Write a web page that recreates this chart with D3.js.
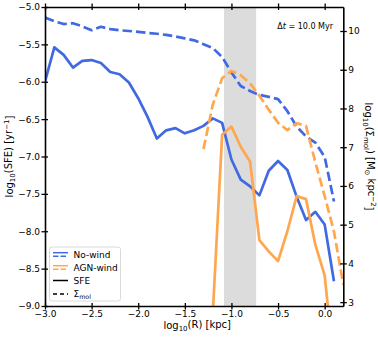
<!DOCTYPE html>
<html>
<head>
<meta charset="utf-8">
<script src="https://cdn.jsdelivr.net/npm/d3@7"></script>
<style>
  body { margin: 0; background: #fff; }
  text { font-family: "DejaVu Sans", sans-serif; fill: #000; }
</style>
</head>
<body>
<div id="chart"></div>
<script>
// radius bins (log10 kpc) for each run
const logRNoWind = [-3.0, -2.9, -2.8, -2.7, -2.6, -2.5, -2.4, -2.3, -2.2, -2.1, -2.0, -1.9, -1.8, -1.7, -1.6, -1.5,
                    -1.4, -1.3, -1.2, -1.1, -1.0, -0.9, -0.8, -0.7, -0.6, -0.5, -0.4, -0.3, -0.2, -0.1, 0.0, 0.1]
const sfeNoWind = [-6.00, -5.54, -5.64, -5.81, -5.72, -5.71, -5.75, -5.87, -5.90, -6.01, -6.22, -6.47, -6.76, -6.65, -6.62, -6.69,
                   -6.65, -6.59, -6.49, -6.55, -7.04, -7.31, -7.40, -7.52, -7.19, -7.06, -7.18, -7.54, -7.85, -7.74, -7.91, -8.67]
const sigmaNoWind = [10.35, 10.25, 10.18, 10.20, 10.12, 10.02, 10.11, 10.05, 10.02, 10.00, 9.98, 9.95, 9.93, 9.90, 9.86, 9.81,
                     9.76, 9.66, 9.56, 9.33, 8.93, 8.58, 8.45, 8.35, 8.30, 8.24, 7.93, 7.53, 7.28, 7.12, 6.75, 5.60]

const logRAgnSfe = [-1.2, -1.1, -1.0, -0.9, -0.8, -0.7, -0.6, -0.5, -0.4, -0.3, -0.2, -0.1, 0.0, 0.1]
const sfeAgn = [-9.1, -6.71, -6.60, -6.87, -7.07, -8.12, -8.27, -8.40, -8.0, -7.53, -7.57, -8.18, -8.59, -9.8]

const logRAgnSigma = [-1.3, -1.2, -1.1, -1.0, -0.9, -0.8, -0.7, -0.6, -0.5, -0.4, -0.3, -0.2, -0.1, 0.0, 0.1, 0.2]
const sigmaAgn = [6.95, 8.1, 8.78, 8.97, 8.86, 8.65, 8.33, 7.97, 7.63, 7.44, 7.62, 7.55, 6.61, 5.74, 4.82, 3.45]

const shadedBand = [-1.08, -0.735]

const xTicks = [-3.0, -2.5, -2.0, -1.5, -1.0, -0.5, 0.0]
const leftTicks = [-9.0, -8.5, -8.0, -7.5, -7.0, -6.5, -6.0, -5.5, -5.0]
const rightTicks = [3, 4, 5, 6, 7, 8, 9, 10]

const blue = '#4169e1'
const orange = '#ffa64f'

const W = 378, H = 337
const mLeft = 45, mRight = 343.3, mTop = 7, mBottom = 306

const svg = d3.select('#chart').append('svg')
    .attr('width', W).attr('height', H)

const x = d3.scaleLinear().domain([-3, 0.2]).range([mLeft, mRight])
const yL = d3.scaleLinear().domain([-9, -5]).range([mBottom, mTop])
const yR = d3.scaleLinear().domain([2.9, 10.62]).range([mBottom, mTop])

svg.append('clipPath').attr('id', 'plotclip')
    .append('rect').attr('x', mLeft).attr('y', mTop)
    .attr('width', mRight - mLeft).attr('height', mBottom - mTop)

// grey band
svg.append('rect')
    .attr('x', x(shadedBand[0])).attr('y', mTop)
    .attr('width', x(shadedBand[1]) - x(shadedBand[0]))
    .attr('height', mBottom - mTop)
    .attr('fill', '#dcdcdc')

const plot = svg.append('g').attr('clip-path', 'url(#plotclip)')

function drawLine(xs, ys, yScale, color, dashed) {
    const line = d3.line()
        .x((d, i) => x(xs[i]))
        .y(d => yScale(d))
    plot.append('path')
        .datum(ys)
        .attr('d', line)
        .attr('fill', 'none')
        .attr('stroke', color)
        .attr('stroke-width', 2.7)
        .attr('stroke-linejoin', 'round')
        .attr('stroke-dasharray', dashed ? '9.5,4' : null)
}

drawLine(logRNoWind, sfeNoWind, yL, blue, false)
drawLine(logRAgnSfe, sfeAgn, yL, orange, false)
drawLine(logRNoWind, sigmaNoWind, yR, blue, true)
drawLine(logRAgnSigma, sigmaAgn, yR, orange, true)

// axes, ticks stick in and out of the spine
const fmt = d3.format('.1f')
const gx = svg.append('g').attr('transform', `translate(0,${mBottom})`)
    .call(d3.axisBottom(x).tickValues(xTicks).tickFormat(fmt).tickSizeInner(3.5).tickSizeOuter(0))
const gxTop = svg.append('g').attr('transform', `translate(0,${mTop})`)
    .call(d3.axisTop(x).tickValues(xTicks).tickFormat('').tickSizeInner(3.5).tickSizeOuter(0))
const gl = svg.append('g').attr('transform', `translate(${mLeft},0)`)
    .call(d3.axisLeft(yL).tickValues(leftTicks).tickFormat(fmt).tickSizeInner(3.5).tickSizeOuter(0))
const gr = svg.append('g').attr('transform', `translate(${mRight},0)`)
    .call(d3.axisRight(yR).tickValues(rightTicks).tickFormat(d3.format('d')).tickSizeInner(3.5).tickSizeOuter(0))

;[gx, gxTop, gl, gr].forEach(g => {
    g.select('.domain').attr('stroke', '#000').attr('stroke-width', 1.6)
    g.selectAll('.tick line').attr('stroke', '#000').attr('stroke-width', 1.3)
    g.selectAll('.tick text').attr('font-size', 9).attr('font-family', 'DejaVu Sans')
})
gx.selectAll('.tick line').attr('y1', -3)
gxTop.selectAll('.tick line').attr('y1', 3)
gl.selectAll('.tick line').attr('x1', 3)
gr.selectAll('.tick line').attr('x1', -3)
gx.selectAll('.tick text').attr('y', 5).attr('dy', '0.7em')
gl.selectAll('.tick text').attr('x', -5)
gr.selectAll('.tick text').attr('x', 5)

// axis labels
function sub(t, main, s) {
    t.append('tspan').text(main)
    t.append('tspan').text(s).attr('font-size', '0.7em').attr('dy', '0.3em')
}

const xl = svg.append('text').attr('x', (mLeft + mRight) / 2 + 3).attr('y', 329)
    .attr('text-anchor', 'middle').attr('font-size', 10)
sub(xl, 'log', '10')
xl.append('tspan').text('(R) [kpc]').attr('dy', '-0.3em')

const yll = svg.append('text')
    .attr('transform', `translate(13,${(mTop + mBottom) / 2}) rotate(-90)`)
    .attr('text-anchor', 'middle').attr('font-size', 10)
sub(yll, 'log', '10')
yll.append('tspan').text('(SFE) [yr').attr('dy', '-0.3em')
yll.append('tspan').text('−1').attr('font-size', '0.7em').attr('dy', '-0.45em')
yll.append('tspan').text(']').attr('dy', '0.45em')

const yrl = svg.append('text')
    .attr('transform', `translate(365,${(mTop + mBottom) / 2}) rotate(90)`)
    .attr('text-anchor', 'middle').attr('font-size', 10)
sub(yrl, 'log', '10')
yrl.append('tspan').text('(Σ').attr('dy', '-0.3em')
yrl.append('tspan').text('mol').attr('font-size', '0.7em').attr('dy', '0.3em')
yrl.append('tspan').text(') [M').attr('dy', '-0.3em')
yrl.append('tspan').text('⊙').attr('font-size', '0.7em').attr('dy', '0.3em')
yrl.append('tspan').text(' kpc').attr('dy', '-0.3em')
yrl.append('tspan').text('−2').attr('font-size', '0.7em').attr('dy', '-0.45em')
yrl.append('tspan').text(']').attr('dy', '0.45em')

// time annotation
const ann = svg.append('text').attr('x', 333).attr('y', 29)
    .attr('text-anchor', 'end').attr('font-size', 8)
ann.append('tspan').text('Δ')
ann.append('tspan').text('t').attr('font-style', 'italic')
ann.append('tspan').text(' = 10.0 Myr')

// legend
const lg = svg.append('g')
lg.append('rect').attr('x', 49.5).attr('y', 247).attr('width', 71).attr('height', 54)
    .attr('rx', 2.5).attr('fill', '#fff').attr('fill-opacity', 0.8)
    .attr('stroke', '#d0d0d0').attr('stroke-width', 0.8)

const legendRows = [
    { label: 'No-wind', color: blue, double: true },
    { label: 'AGN-wind', color: orange, double: true },
    { label: 'SFE', color: '#000', dash: null },
    { label: 'Σ', sub: 'mol', color: '#000', dash: '4,3' }
]
const rowY = [254.5, 267.5, 280.5, 294]
legendRows.forEach((r, i) => {
    const cy = rowY[i]
    if (r.double) {
        lg.append('line').attr('x1', 53).attr('x2', 68).attr('y1', cy - 1.8).attr('y2', cy - 1.8)
            .attr('stroke', r.color).attr('stroke-width', 1.5)
        lg.append('line').attr('x1', 53).attr('x2', 68).attr('y1', cy + 1.8).attr('y2', cy + 1.8)
            .attr('stroke', r.color).attr('stroke-width', 1.5).attr('stroke-dasharray', '5.5,2')
    } else {
        lg.append('line').attr('x1', 53).attr('x2', 68).attr('y1', cy).attr('y2', cy)
            .attr('stroke', r.color).attr('stroke-width', 1.5).attr('stroke-dasharray', r.dash)
    }
    const t = lg.append('text').attr('x', 73.5).attr('y', cy + 3.2).attr('font-size', 9)
    t.append('tspan').text(r.label)
    if (r.sub) t.append('tspan').text(r.sub).attr('font-size', '0.7em').attr('dy', '0.3em')
})
</script>
</body>
</html>
